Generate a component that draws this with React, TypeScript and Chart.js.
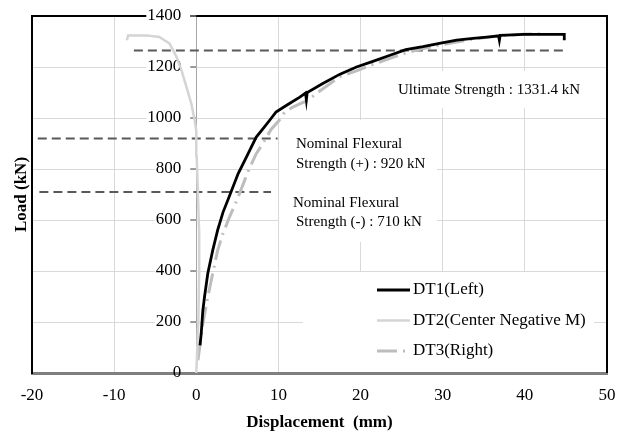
import React, { useEffect, useRef } from 'react';
import { Chart, registerables } from 'chart.js';

Chart.register(...registerables);

// ---------- data ----------
const seriesLabels = ['DT1(Left)', 'DT2(Center Negative M)', 'DT3(Right)'];

const dt1X = [0.45, 0.6, 0.8, 1.0, 1.4, 2.0, 2.6, 3.25, 4.05, 5.1, 6.1, 7.3, 8.3, 9.1, 9.7, 11.0, 12.6, 13.3, 13.4, 13.5, 15.4, 17.5, 19.5, 21.5, 23.5, 25.5, 27.6, 29.6, 31.7, 33.7, 35.7, 36.8, 36.9, 37.0, 38.5, 39.8, 42.2, 44.8, 44.8];
const dt1Y = [108, 154, 246, 298, 390, 481, 560, 630, 695, 782, 847, 925, 965, 998, 1023, 1050, 1082, 1098, 1072, 1100, 1135, 1172, 1200, 1222, 1245, 1268, 1280, 1293, 1305, 1312, 1318, 1322, 1305, 1324, 1326, 1328, 1328, 1328, 1305];

const dt2X = [0, 0.25, 0.35, 0.35, 0.2, 0.05, 0, -0.2, -0.6, -1.2, -1.8, -2.4, -3.25, -4.5, -6.1, -7.3, -8.3, -8.45];
const dt2Y = [0, 200, 400, 550, 700, 850, 950, 991, 1056, 1122, 1187, 1239, 1292, 1318, 1324, 1324, 1324, 1305];

const dt3X = [0.2, 0.8, 1.4, 2.0, 2.6, 3.25, 4.05, 4.66, 5.1, 6.3, 7.3, 8.1, 9.1, 10.1, 10.75, 11.76, 12.6, 13.5, 15.0, 17.4, 19.5, 21.5, 23.5, 25.5, 27.6, 29.6, 31.7, 33.7, 35.7, 37.7, 39.8, 41.8];
const dt3Y = [50, 194, 298, 390, 481, 547, 612, 657, 690, 790, 860, 900, 955, 991, 1023, 1043, 1055, 1068, 1105, 1161, 1185, 1210, 1233, 1255, 1272, 1286, 1298, 1309, 1318, 1324, 1328, 1330];

// reference (dashed) lines
const ultLineX = [-7.6, 45.0];
const ultLineY = [1265, 1265];
const posLineX = [-19.3, 9.9];
const posLineY = [920, 920];
const negLineX = [-19.1, 9.1];
const negLineY = [710, 710];

const annotationTexts = [
  'Ultimate Strength : 1331.4 kN',
  'Nominal Flexural',
  'Strength (+) : 920 kN',
  'Nominal Flexural',
  'Strength (-) : 710 kN',
];

const xMin = -20, xMax = 50, xStep = 10;
const yMin = 0, yMax = 1400, yStep = 200;

const FONT = "'Liberation Serif', 'Times New Roman', serif";

const pts = (xs: number[], ys: number[]) => xs.map((x, i) => ({ x, y: ys[i] }));

const decorPlugin = {
  id: 'decor',
  beforeDatasetsDraw(chart: any) {
    const { ctx, chartArea: ca, scales } = chart;
    const xs = scales.x;
    const ys = scales.y;
    ctx.save();

    // top + right frame
    ctx.strokeStyle = '#000';
    ctx.lineWidth = 2;
    ctx.beginPath();
    ctx.moveTo(ca.left - 1, ca.top);
    ctx.lineTo(ca.right, ca.top);
    ctx.lineTo(ca.right, ca.bottom);
    ctx.stroke();

    // white text boxes
    ctx.fillStyle = '#fff';
    ctx.fillRect(392, 71, 196, 37);
    ctx.fillRect(279, 120, 158, 122);
    ctx.fillRect(303, 272, 291, ca.bottom - 273);

    // y tick labels at x = 0
    const x0 = xs.getPixelForValue(0);
    ctx.font = `17px ${FONT}`;
    ctx.textAlign = 'right';
    ctx.textBaseline = 'middle';
    ys.ticks.forEach((t: any) => {
      const py = ys.getPixelForValue(t.value);
      const label = String(t.value);
      const w = ctx.measureText(label).width;
      if (t.value !== 0) {
        ctx.fillStyle = '#fff';
        ctx.fillRect(x0 - 15 - w - 1, py - 9, w + 10, 18);
      }
      ctx.fillStyle = '#000';
      ctx.fillText(label, x0 - 15, py);
      ctx.strokeStyle = '#7f7f7f';
      ctx.lineWidth = 1.5;
      ctx.beginPath();
      ctx.moveTo(x0 - 6, py);
      ctx.lineTo(x0, py);
      ctx.stroke();
    });

    // annotation texts
    ctx.font = `15px ${FONT}`;
    ctx.textAlign = 'left';
    ctx.fillStyle = '#000';
    ctx.fillText(annotationTexts[0], 398, 90);
    ctx.fillText(annotationTexts[1], 296, 144);
    ctx.fillText(annotationTexts[2], 296, 164);
    ctx.fillText(annotationTexts[3], 293, 203);
    ctx.fillText(annotationTexts[4], 296, 222);

    // legend
    const rows = [290, 320.5, 351];
    ctx.font = `17px ${FONT}`;
    chart.data.datasets.forEach((ds: any, i: number) => {
      if (i >= seriesLabels.length) return;
      const y = rows[i];
      ctx.strokeStyle = ds.borderColor;
      ctx.lineWidth = ds.borderWidth;
      ctx.setLineDash(ds.borderDash || []);
      ctx.beginPath();
      ctx.moveTo(377, y);
      ctx.lineTo(410, y);
      ctx.stroke();
      ctx.setLineDash([]);
      ctx.fillStyle = '#000';
      ctx.fillText(ds.label, 413, y);
    });

    ctx.restore();
  },
};

export default function App() {
  const ref = useRef<HTMLCanvasElement | null>(null);

  useEffect(() => {
    document.body.style.margin = '0';
    if (!ref.current) return;
    const refLine = {
      borderColor: '#595959',
      borderWidth: 2,
      borderDash: [9, 5],
      pointRadius: 0,
      tension: 0,
    };
    const chart = new Chart(ref.current, {
      type: 'line',
      data: {
        datasets: [
          { label: seriesLabels[0], data: pts(dt1X, dt1Y), borderColor: '#000000', borderWidth: 2.8, pointRadius: 0, tension: 0 },
          { label: seriesLabels[1], data: pts(dt2X, dt2Y), borderColor: '#d4d4d4', borderWidth: 2.5, pointRadius: 0, tension: 0 },
          { label: seriesLabels[2], data: pts(dt3X, dt3Y), borderColor: '#bdbdbd', borderWidth: 3, borderDash: [20, 6, 2, 6], pointRadius: 0, tension: 0 },
          { label: '', data: pts(ultLineX, ultLineY), ...refLine },
          { label: '', data: pts(posLineX, posLineY), ...refLine },
          { label: '', data: pts(negLineX, negLineY), ...refLine },
        ],
      } as any,
      options: {
        animation: false,
        responsive: true,
        maintainAspectRatio: false,
        parsing: true,
        layout: { padding: { top: 16, right: 21, left: 0, bottom: 0 } },
        plugins: {
          legend: { display: false },
          tooltip: { enabled: false },
        },
        scales: {
          x: {
            type: 'linear',
            min: xMin,
            max: xMax,
            ticks: {
              stepSize: xStep,
              color: '#000',
              font: { family: FONT, size: 17 },
              padding: 12,
            },
            grid: {
              color: (c: any) => (c.tick && c.tick.value === 0 ? '#a6a6a6' : '#d9d9d9'),
              lineWidth: 1,
              drawTicks: false,
            },
            border: { color: '#7f7f7f', width: 3 },
            title: {
              display: true,
              text: 'Displacement  (mm)',
              color: '#000',
              font: { family: FONT, size: 17, weight: 'bold' },
              padding: { top: 0, bottom: 3 },
            },
            afterFit: (s: any) => { s.height = 63; },
          },
          y: {
            type: 'linear',
            min: yMin,
            max: yMax,
            ticks: { stepSize: yStep, display: false },
            grid: { color: '#d9d9d9', lineWidth: 1, drawTicks: false },
            border: { color: '#000', width: 2 },
            title: {
              display: true,
              text: 'Load (kN)',
              color: '#000',
              font: { family: FONT, size: 17, weight: 'bold' },
              padding: { top: 11, bottom: 0 },
            },
            afterFit: (s: any) => { s.width = 32; },
          },
        },
      } as any,
      plugins: [decorPlugin],
    });
    return () => chart.destroy();
  }, []);

  return (
    <div style={{ width: 628, height: 436, position: 'relative' }}>
      <canvas ref={ref} />
    </div>
  );
}
